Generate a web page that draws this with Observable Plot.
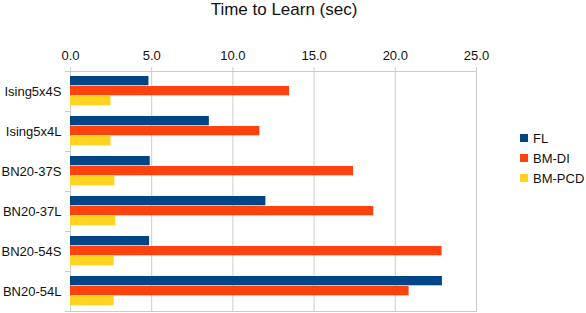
<!DOCTYPE html>
<html>
<head>
<meta charset="utf-8">
<script src="https://cdn.jsdelivr.net/npm/d3@7"></script>
<script src="https://cdn.jsdelivr.net/npm/@observablehq/plot@0.6"></script>
<style>
  html, body { margin: 0; padding: 0; background: #fff; }
  body { font-family: "Liberation Sans", Arial, sans-serif; }
  #wrap { position: relative; width: 586px; height: 313px; overflow: hidden; }
  #title { height: 20px; line-height: 20px; font-size: 17px; text-align: center; padding-right: 18px; color: #111; }
  #legend { position: absolute; left: 520px; top: 128px; font-size: 13px; color: #111; }
  #legend .row { height: 20px; display: flex; align-items: center; }
  #legend .sw { width: 8px; height: 8px; margin-right: 5px; }
</style>
</head>
<body>
<div id="wrap">
  <div id="title">Time to Learn (sec)</div>
  <div id="chart"></div>
  <div id="legend"></div>
</div>
<script>
const categories = ["Ising5x4S", "Ising5x4L", "BN20-37S", "BN20-37L", "BN20-54S", "BN20-54L"];
const series = ["FL", "BM-DI", "BM-PCD"];
const colors = ["#004586", "#ff420e", "#ffd320"];
const FL     = [4.83, 8.55, 4.91, 12.03, 4.87, 22.90];
const BM_DI  = [13.49, 11.66, 17.43, 18.67, 22.88, 20.85];
const BM_PCD = [2.49, 2.49, 2.73, 2.79, 2.69, 2.69];
const xTicks = [0, 5, 10, 15, 20, 25];

const valuesBySeries = [FL, BM_DI, BM_PCD];
const data = [];
categories.forEach((c, i) => {
  series.forEach((s, j) => data.push({category: c, series: s, value: valuesBySeries[j][i]}));
});

const gridColor = "#cccccc";
const textColor = "#111";

const plot = Plot.plot({
  width: 586,
  height: 293,
  marginTop: 51,
  marginBottom: 2,
  marginLeft: 70,
  marginRight: 110,
  style: {fontFamily: "Liberation Sans, Arial, sans-serif", fontSize: "13px", color: textColor, background: "#fff"},
  x: {domain: [0, 25], label: null},
  y: {domain: series, paddingInner: 0, paddingOuter: 0.5, axis: null},
  fy: {domain: categories, padding: 0, label: null},
  color: {domain: series, range: colors},
  marks: [
    Plot.gridX(xTicks, {stroke: gridColor, strokeOpacity: 1}),
    Plot.frame({facet: "super", stroke: gridColor}),
    Plot.barX(data, {x: "value", y: "series", fy: "category", fill: "series", insetBottom: 0.7}),
    Plot.axisX(xTicks, {anchor: "top", tickFormat: d3.format(".1f"), tickSize: 5, tickPadding: 7, stroke: gridColor, fill: textColor, label: null, fontSize: 13}),
    Plot.axisFy({anchor: "left", tickSize: 0, tickPadding: 9, label: null, fontSize: 13, fill: textColor}),
    Plot.axisFy({anchor: "left", tickSize: 5, text: null, label: null, dy: -20, stroke: gridColor}),
    Plot.axisFy([categories[categories.length - 1]], {anchor: "left", tickSize: 5, text: null, label: null, dy: 20, stroke: gridColor})
  ]
});
document.getElementById("chart").appendChild(plot);

const colorScale = plot.scale("color");
const legend = d3.select("#legend");
colorScale.domain.forEach((s, i) => {
  const row = legend.append("div").attr("class", "row");
  row.append("div").attr("class", "sw").style("background", colorScale.range[i]);
  row.append("span").text(s);
});
</script>
</body>
</html>
